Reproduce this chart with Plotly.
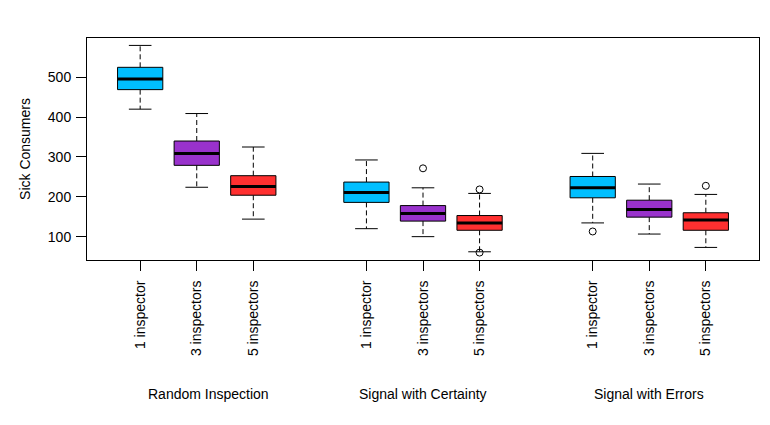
import plotly.graph_objects as go

groups = ["Random Inspection", "Signal with Certainty", "Signal with Errors"]
inspectors = ["1 inspector", "3 inspectors", "5 inspectors"]
colors = ["#00BFFF", "#9932CC", "#FF3030"]

lower = [420, 224, 144, 120, 100, 62, 134.5, 106.5, 73]
q1 = [469, 279, 204, 186, 139, 116, 197.5, 149, 116]
median = [496, 309, 226, 211, 158, 134.5, 223, 168, 142]
q3 = [525, 340, 253, 237, 178, 153, 251, 191.5, 160]
upper = [580, 409, 325, 292.5, 222.6, 208.5, 309, 232, 206]
outlier_box = [4, 5, 5, 6, 8]
outlier_val = [271.5, 218.5, 60, 113, 227.6]

FONT = "Arial, Liberation Sans, sans-serif"
FS = 14
hw = 0.4   # half box width
cw = 0.2   # half cap width

positions = []
for g in range(len(groups)):
    for i in range(len(inspectors)):
        positions.append(g * 4 + i + 1)

fig = go.Figure()

# whiskers (dashed) and caps
wx, wy = [], []
cx, cy = [], []
for k, p in enumerate(positions):
    wx += [p, p, None, p, p, None]
    wy += [q3[k], upper[k], None, q1[k], lower[k], None]
    cx += [p - cw, p + cw, None, p - cw, p + cw, None]
    cy += [upper[k], upper[k], None, lower[k], lower[k], None]
fig.add_trace(go.Scatter(x=wx, y=wy, mode="lines",
                         line=dict(color="black", width=1, dash="5px,3px"),
                         hoverinfo="skip", showlegend=False))
fig.add_trace(go.Scatter(x=cx, y=cy, mode="lines",
                         line=dict(color="black", width=1),
                         hoverinfo="skip", showlegend=False))

# boxes
for k, p in enumerate(positions):
    col = colors[k % 3]
    fig.add_trace(go.Scatter(
        x=[p - hw, p + hw, p + hw, p - hw, p - hw],
        y=[q1[k], q1[k], q3[k], q3[k], q1[k]],
        mode="lines", fill="toself", fillcolor=col,
        line=dict(color="black", width=1),
        hoverinfo="skip", showlegend=False))

# medians
mx, my = [], []
for k, p in enumerate(positions):
    mx += [p - hw, p + hw, None]
    my += [median[k], median[k], None]
fig.add_trace(go.Scatter(x=mx, y=my, mode="lines",
                         line=dict(color="black", width=3),
                         hoverinfo="skip", showlegend=False))

# outliers
fig.add_trace(go.Scatter(
    x=[positions[b] for b in outlier_box], y=outlier_val, mode="markers",
    marker=dict(symbol="circle-open", size=7, color="black", line=dict(width=1)),
    hoverinfo="skip", showlegend=False))

# page has an 8px body margin; compensate in figure margins
ML, MR, MT, MB = 79, 19, 30, 173
plot_h = 425 - MT - MB
for g, name in enumerate(groups):
    xpos = positions[g * 3 + 1] + (0.2 if g == 0 else 0)
    fig.add_annotation(x=xpos, y=-(394 - 260) / plot_h, xref="x", yref="paper",
                       yanchor="middle", text=name, showarrow=False,
                       font=dict(family=FONT, size=FS, color="black"))

fig.update_layout(
    width=770, height=425,
    margin=dict(l=ML, r=MR, t=MT, b=MB),
    paper_bgcolor="white", plot_bgcolor="white",
    font=dict(family=FONT, size=FS, color="black"),
    xaxis=dict(range=[0.06, 11.94], tickmode="array", tickvals=positions,
               ticktext=inspectors * 3, tickangle=-90, automargin=False,
               ticks="outside", ticklen=10, tickcolor="black", tickwidth=1,
               showline=True, linecolor="black", linewidth=1, mirror=True,
               showgrid=False, zeroline=False, ticklabelstandoff=4),
    yaxis=dict(range=[41.4, 598.6], tickvals=[100, 200, 300, 400, 500],
               automargin=False,
               ticks="outside", ticklen=10, tickcolor="black", tickwidth=1,
               showline=True, linecolor="black", linewidth=1, mirror=True,
               showgrid=False, zeroline=False, ticklabelstandoff=2,
               title=dict(text="Sick Consumers", standoff=13,
                          font=dict(family=FONT, size=FS))),
)

fig.write_html("out.html")
